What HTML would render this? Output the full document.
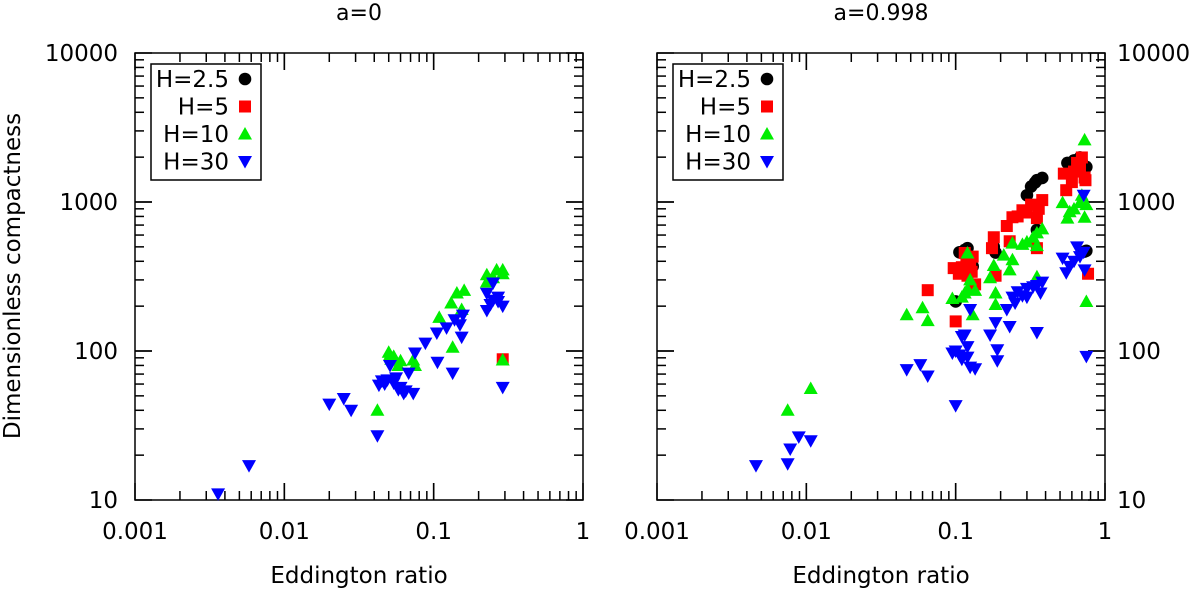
<!DOCTYPE html>
<html><head><meta charset="utf-8"><style>
body{margin:0;background:#fff;}
svg{display:block;font-family:"DejaVu Sans","Liberation Sans",sans-serif;}
</style></head><body>
<svg id="chart" width="1200" height="590" viewBox="0 0 1200 590" xmlns="http://www.w3.org/2000/svg"></svg>
<script>
// ---- data: left panel (a=0) ----
const L_h30_x=[0.0036,0.0058,0.02,0.025,0.028,0.042,0.051,0.043,0.054,0.063,0.073,0.068,0.075,0.088,0.106,0.134,0.105,0.122,0.154,0.138,0.157,0.227,0.25,0.29,0.227,0.25,0.29,0.047,0.058,0.06,0.065,0.27,0.049,0.056,0.045,0.15,0.24,0.27];
const L_h30_y=[11,17,44,48,40,27,80,59,61,52,52,71,97,113,84,71,132,143,124,162,174,187,219,200,244,286,57,60,55,57,54,230,64,66,63,150,205,215];
const L_h10_x=[0.042,0.051,0.054,0.06,0.058,0.073,0.075,0.134,0.109,0.131,0.143,0.16,0.154,0.227,0.264,0.29,0.29,0.227,0.29,0.05,0.052,0.25];
const L_h10_y=[40,94,92,86,80,87,80,106,168,210,245,255,190,325,350,350,330,290,87,98,88,310];
const L_h5_x=[0.29];
const L_h5_y=[88];
const L_h25_x=[];
const L_h25_y=[];
// ---- data: right panel (a=0.998) ----
const R_h25_x=[0.115,0.106,0.13,0.18,0.185,0.35,0.32,0.38,0.30,0.35,0.56,0.68,0.75,0.75,0.1,0.73,0.12,0.34,0.62,0.7];
const R_h25_y=[477,460,370,500,458,1400,1270,1450,1110,650,1830,1990,1720,470,215,465,490,1350,1900,1850];
const R_h5_x=[0.065,0.1,0.097,0.11,0.12,0.13,0.135,0.115,0.175,0.18,0.185,0.22,0.24,0.28,0.32,0.38,0.35,0.23,0.35,0.53,0.6,0.73,0.65,0.70,0.77,0.55,0.26,0.125,0.105,0.118,0.128,0.3,0.36,0.62,0.68,0.74];
const R_h5_y=[256,158,360,365,320,430,280,455,490,580,320,690,790,880,960,1030,780,545,490,1550,1360,1460,1830,1990,330,1200,800,400,330,400,340,850,900,1600,1700,1400];
const R_h10_x=[0.0075,0.0107,0.047,0.06,0.065,0.095,0.115,0.135,0.12,0.18,0.17,0.185,0.185,0.21,0.24,0.23,0.24,0.30,0.35,0.38,0.35,0.35,0.52,0.58,0.68,0.75,0.73,0.56,0.70,0.73,0.75,0.13,0.11,0.12,0.125,0.28,0.33,0.62];
const R_h10_y=[40,56,175,195,160,225,245,255,455,375,310,245,205,440,410,350,530,540,620,660,510,315,990,860,990,960,790,780,1110,2610,215,175,230,260,300,520,580,900];
const R_h30_x=[0.0046,0.0075,0.0078,0.0089,0.0107,0.047,0.058,0.065,0.1,0.095,0.11,0.106,0.12,0.125,0.135,0.12,0.125,0.115,0.185,0.17,0.19,0.19,0.22,0.23,0.24,0.28,0.30,0.35,0.38,0.35,0.37,0.52,0.58,0.65,0.72,0.55,0.75,0.72,0.73,0.25,0.3,0.1,0.11,0.26,0.33,0.62,0.68];
const R_h30_y=[17,17.5,22,26.5,25,75,81,68,43,97,125,94,91,78,76,107,190,128,155,128,102,86,190,146,230,235,263,275,290,133,245,420,370,500,460,335,92,1110,350,210,230,100,88,250,270,400,430];
// ticks
const xTicks=[0.001,0.01,0.1,1];
const xTickLabels=["0.001","0.01","0.1","1"];
const yTicks=[10,100,1000,10000];
const yTickLabels=["10","100","1000","10000"];

const svg=document.getElementById('chart');
const NS='http://www.w3.org/2000/svg';
function mk(tag,attrs,parent){const e=document.createElementNS(NS,tag);for(const k in attrs)e.setAttribute(k,attrs[k]);(parent||svg).appendChild(e);return e;}
const pTop=53,pBot=500,W=448;
function xs(x0){return v=>x0+(Math.log10(v)+3)/3*W;}
function ys(v){return pBot-(Math.log10(v)-1)/3*(pBot-pTop);}
function marker(g,kind,cx,cy){
  let e;
  if(kind==='c'){e=mk('circle',{cx:cx,cy:cy,r:6.3,fill:'#000'},g);}
  else if(kind==='s'){e=mk('rect',{x:cx-6,y:cy-6,width:12,height:12,fill:'#f00'},g);}
  else if(kind==='u'){e=mk('polygon',{points:`${cx-7},${cy+5.5} ${cx+7},${cy+5.5} ${cx},${cy-7}`,fill:'#00ee00'},g);}
  else {e=mk('polygon',{points:`${cx-7},${cy-5.5} ${cx+7},${cy-5.5} ${cx},${cy+7}`,fill:'#0000ff'},g);}
  return e;
}
function panel(name,x0,title,series,leftLabels){
  const X=xs(x0);
  const g=mk('g',{});
  
  
  const t=mk('text',{x:x0+W/2,y:20,'text-anchor':'middle','font-size':22},g);t.textContent=title;
  
  
  const tg=mk('g',{stroke:'#000','stroke-width':1.5},g);
  for(let d=0;d<3;d++){for(let m=1;m<=10;m++){
    const v=Math.pow(10,d-3)*m; const px=X(v); const len=(m===1||m===10)?17:9;
    mk('line',{x1:px,y1:pBot,x2:px,y2:pBot-len},tg);mk('line',{x1:px,y1:pTop,x2:px,y2:pTop+len},tg);
    const vy=Math.pow(10,d+1)*m; const py=ys(vy);
    mk('line',{x1:x0,y1:py,x2:x0+len,y2:py},tg);mk('line',{x1:x0+W,y1:py,x2:x0+W-len,y2:py},tg);
  }}
  mk('rect',{x:x0,y:pTop,width:W,height:pBot-pTop,fill:'none',stroke:'#000','stroke-width':1.5},g);
  xTicks.forEach((v,i)=>{const e=mk('text',{x:X(v),y:539,'text-anchor':'middle','font-size':23},g);e.textContent=xTickLabels[i];
    
    });
  yTicks.forEach((v,i)=>{const e=mk('text',{x:leftLabels?118:1117,y:ys(v)+8,'text-anchor':leftLabels?'end':'start','font-size':23},g);e.textContent=yTickLabels[i];
    
    });
  const xl=mk('text',{x:x0+W/2,y:583,'text-anchor':'middle','font-size':23},g);xl.textContent='Eddington ratio';
  
  
  series.forEach(s=>{const sg=mk('g',{},g);
    
    
    s.x.forEach((v,i)=>{const m=marker(sg,s.k,X(v),ys(s.y[i]));
      
      });});
  const lg=mk('g',{},g);
  
  
  mk('rect',{x:x0+16,y:64,width:110,height:116,fill:'#fff',stroke:'#000','stroke-width':1.5},lg);
  const labs=['H=2.5','H=5','H=10','H=30'],ks=['c','s','u','d'];
  labs.forEach((l,i)=>{const cy=79+i*27.5;
    const e=mk('text',{x:x0+94,y:cy+8,'text-anchor':'end','font-size':23},lg);e.textContent=l;
    
    
    marker(lg,ks[i],x0+110,cy);});
}
panel('left-panel',135,'a=0',[
  {name:'series-h2-5',k:'c',x:L_h25_x,y:L_h25_y},
  {name:'series-h5',k:'s',x:L_h5_x,y:L_h5_y},
  {name:'series-h10',k:'u',x:L_h10_x,y:L_h10_y},
  {name:'series-h30',k:'d',x:L_h30_x,y:L_h30_y}],true);
panel('right-panel',657,'a=0.998',[
  {name:'series-h2-5',k:'c',x:R_h25_x,y:R_h25_y},
  {name:'series-h5',k:'s',x:R_h5_x,y:R_h5_y},
  {name:'series-h10',k:'u',x:R_h10_x,y:R_h10_y},
  {name:'series-h30',k:'d',x:R_h30_x,y:R_h30_y}],false);
const yl=mk('text',{x:20,y:276,'text-anchor':'middle','font-size':23,transform:'rotate(-90 20 276)'});
yl.textContent='Dimensionless compactness';


</script>
</body></html>
